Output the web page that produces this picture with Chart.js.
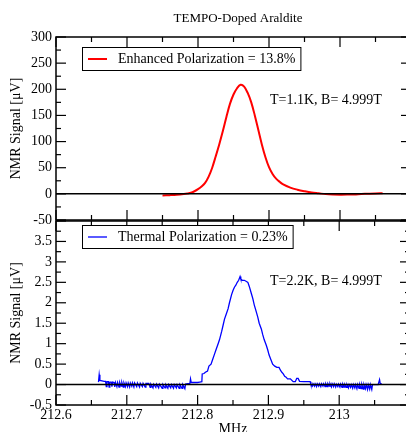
<!DOCTYPE html>
<html>
<head>
<meta charset="utf-8">
<script src="https://cdn.jsdelivr.net/npm/chart.js@4"></script>
<style>
    body { margin: 0; background: #fff; }
    #wrap { position: relative; width: 406px; height: 432px; overflow: hidden; background: #fff; }
    #wrap canvas { position: absolute; left: 0; top: 0; }
</style>
</head>
<body>
<div id="wrap">
    <canvas id="thermalChart" width="412" height="450"></canvas>
    <canvas id="enhancedChart" width="412" height="450"></canvas>
</div>
<script>
// Enhanced (DNP) signal, top panel
const enhancedFreq = [212.750, 212.760, 212.770, 212.780, 212.785, 212.790, 212.795, 212.800, 212.805, 212.810,
    212.815, 212.820, 212.825, 212.830, 212.835, 212.840, 212.845, 212.850, 212.855, 212.860,
    212.865, 212.870, 212.875, 212.880, 212.885, 212.890, 212.895, 212.900, 212.905, 212.910,
    212.915, 212.920, 212.930, 212.940, 212.950, 212.960, 212.970, 212.980, 212.990, 213.000,
    213.010, 213.020, 213.030, 213.040, 213.050, 213.060];
const enhancedSignal = [-3, -2.5, -1.8, -0.5, 0.5, 2, 5, 9, 14, 21,
    33, 50, 72, 95, 120, 147, 172, 190, 202, 208.5,
    205, 193, 175, 150, 122, 94, 70, 51, 38, 29,
    23, 18, 12, 8, 5, 2.5, 1, -0.5, -1.2, -1.5,
    -1.4, -1, -0.3, 0.3, 0.8, 1];

// Thermal equilibrium signal, bottom panel
const thermalFreq = [212.660, 212.661, 212.662, 212.665, 212.668, 212.670, 212.671, 212.672, 212.674, 212.675,
    212.676, 212.678, 212.679, 212.680, 212.682, 212.683, 212.684, 212.686, 212.687, 212.689,
    212.690, 212.692, 212.693, 212.695, 212.696, 212.698, 212.699, 212.701, 212.702, 212.704,
    212.705, 212.707, 212.708, 212.710, 212.711, 212.714, 212.715, 212.718, 212.719, 212.722,
    212.723, 212.726, 212.727, 212.731, 212.733, 212.734, 212.737, 212.738, 212.741, 212.742,
    212.745, 212.746, 212.750, 212.751, 212.754, 212.755, 212.758, 212.759, 212.762, 212.763,
    212.766, 212.767, 212.770, 212.771, 212.774, 212.775, 212.778, 212.779, 212.782, 212.783,
    212.786, 212.789, 212.790, 212.791, 212.795, 212.800, 212.803, 212.806, 212.8065, 212.809,
    212.811, 212.814, 212.816, 212.819, 212.821, 212.824, 212.826, 212.829, 212.831, 212.834,
    212.836, 212.838, 212.841, 212.843, 212.845, 212.848, 212.850, 212.852, 212.854, 212.856,
    212.858, 212.860, 212.861, 212.863, 212.866, 212.869, 212.871, 212.873, 212.876, 212.878,
    212.880, 212.883, 212.885, 212.887, 212.890, 212.892, 212.894, 212.897, 212.899, 212.901,
    212.904, 212.906, 212.909, 212.912, 212.915, 212.917, 212.919, 212.921, 212.923, 212.925,
    212.927, 212.929, 212.931, 212.935, 212.938, 212.940, 212.942, 212.944, 212.950, 212.955,
    212.959, 212.960, 212.962, 212.963, 212.965, 212.966, 212.968, 212.969, 212.971, 212.972,
    212.974, 212.975, 212.977, 212.978, 212.980, 212.981, 212.983, 212.984, 212.986, 212.987,
    212.989, 212.990, 212.992, 212.993, 212.995, 212.996, 212.998, 212.999, 213.001, 213.002,
    213.004, 213.005, 213.007, 213.008, 213.010, 213.011, 213.013, 213.014, 213.016, 213.017,
    213.019, 213.020, 213.022, 213.023, 213.025, 213.026, 213.028, 213.029, 213.031, 213.032,
    213.034, 213.035, 213.037, 213.038, 213.040, 213.041, 213.043, 213.044, 213.046, 213.047,
    213.055, 213.057, 213.058, 213.060];
const thermalSignal = [0.06, 0.24, 0.10, 0.09, 0.08, 0.08, -0.05, 0.07, 0.07, -0.06,
    0.06, 0.06, -0.05, 0.06, 0.05, -0.06, 0.05, -0.05, 0.05, -0.06,
    0.05, -0.04, 0.05, -0.06, 0.04, -0.05, 0.04, -0.05, 0.04, -0.06,
    0.04, -0.04, 0.04, -0.06, 0.04, -0.05, 0.04, -0.06, 0.03, -0.05,
    0.03, -0.06, 0.03, 0.03, -0.07, 0.01, -0.08, 0.01, -0.07, 0.01,
    -0.08, 0.01, -0.09, 0.0, -0.08, 0.0, -0.09, 0.0, -0.08, 0.0,
    -0.09, 0.0, -0.08, 0.0, -0.09, 0.0, -0.09, 0.0, -0.1, 0.01,
    0.02, 0.02, 0.14, 0.05, 0.05, 0.05, 0.06, 0.07, 0.26, 0.27,
    0.3, 0.33, 0.45, 0.5, 0.6, 0.75, 0.85, 1.0, 1.1, 1.3,
    1.45, 1.6, 1.75, 1.85, 2.0, 2.2, 2.3, 2.38, 2.43, 2.5,
    2.55, 2.64, 2.58, 2.55, 2.55, 2.52, 2.5, 2.4, 2.22, 2.1,
    1.95, 1.77, 1.65, 1.5, 1.36, 1.22, 1.1, 0.96, 0.85, 0.72,
    0.59, 0.5, 0.45, 0.42, 0.42, 0.35, 0.3, 0.26, 0.2, 0.18,
    0.14, 0.14, 0.14, 0.07, 0.07, 0.15, 0.15, 0.08, 0.07, 0.07,
    0.07, 0.0, -0.04, 0.02, -0.04, 0.02, -0.05, 0.02, -0.04, 0.02,
    -0.05, 0.02, -0.04, 0.02, -0.05, 0.02, -0.05, 0.02, -0.04, 0.02,
    -0.06, 0.02, -0.05, 0.02, -0.06, 0.01, -0.05, 0.01, -0.06, 0.01,
    -0.07, 0.01, -0.06, 0.0, -0.07, 0.0, -0.08, 0.0, -0.07, 0.0,
    -0.09, 0.0, -0.08, 0.0, -0.1, 0.0, -0.09, 0.0, -0.1, 0.0,
    -0.11, 0.0, -0.1, 0.0, -0.12, 0.0, -0.11, 0.0, -0.12, 0.0,
    0.0, 0.12, 0.02, 0.02];

const SERIF = '"Liberation Serif", "Times New Roman", serif';

document.addEventListener("DOMContentLoaded", function() {

    function toPoints(xs, ys) {
        return xs.map((x, i) => ({ x: x, y: ys[i] }));
    }

    function line(ctx, x1, y1, x2, y2) {
        ctx.beginPath();
        ctx.moveTo(x1, y1);
        ctx.lineTo(x2, y2);
        ctx.stroke();
    }

    // minor ticks sit halfway between the major ones
    function tickSets(scale) {
        const major = scale.ticks.map(t => t.value);
        const minor = [];
        for (let i = 0; i < major.length - 1; i++) minor.push((major[i] + major[i + 1]) / 2);
        return { major, minor };
    }

    // frame, inward ticks, zero line, boxed legend and notes (grace-style)
    const framePlugin = {
        id: "frame",
        afterDatasetsDraw(chart, args, opts) {
            const { ctx, chartArea: a, scales: { x, y } } = chart;
            ctx.save();
            ctx.strokeStyle = "#000";
            ctx.lineWidth = 1.5;

            const y0 = y.getPixelForValue(0);
            line(ctx, a.left, y0, a.right, y0);
            ctx.strokeRect(a.left, a.top, a.right - a.left, a.bottom - a.top);

            ctx.lineWidth = 1.2;
            const xt = tickSets(x);
            xt.major.forEach(v => {
                const px = x.getPixelForValue(v);
                line(ctx, px, a.bottom, px, a.bottom - 10);
                line(ctx, px, a.top, px, a.top + 10);
            });
            xt.minor.forEach(v => {
                const px = x.getPixelForValue(v);
                line(ctx, px, a.bottom, px, a.bottom - 5);
                line(ctx, px, a.top, px, a.top + 5);
            });
            const yt = tickSets(y);
            yt.major.forEach(v => {
                const py = y.getPixelForValue(v);
                line(ctx, a.left, py, a.left + 10, py);
                line(ctx, a.right, py, a.right - 10, py);
            });
            yt.minor.forEach(v => {
                const py = y.getPixelForValue(v);
                line(ctx, a.left, py, a.left + 5, py);
                line(ctx, a.right, py, a.right - 5, py);
            });

            // legend box
            const lg = opts.legend;
            ctx.font = "14px " + SERIF;
            ctx.textBaseline = "middle";
            ctx.textAlign = "left";
            const tw = ctx.measureText(lg.text).width;
            ctx.lineWidth = 1;
            ctx.fillStyle = "#fff";
            ctx.fillRect(82, lg.top, 118 + tw + 5 - 82, 23);
            ctx.strokeRect(82.5, lg.top + 0.5, 118 + tw + 5 - 82, 23);
            ctx.strokeStyle = lg.color;
            ctx.lineWidth = lg.width;
            line(ctx, 88, lg.top + 12, 107, lg.top + 12);
            ctx.fillStyle = "#000";
            ctx.fillText(lg.text, 118, lg.top + 12.5);

            // condition note
            ctx.fillText(opts.note.text, 270, opts.note.y);

            if (opts.title) {
                ctx.font = "13px " + SERIF;
                ctx.textAlign = "center";
                ctx.fillText(opts.title, 238, 19);
            }
            ctx.restore();
        }
    };

    const yTitle = {
        display: true,
        text: "NMR Signal [\u03bcV]",
        color: "#000",
        font: { family: SERIF, size: 14 },
        padding: { top: 8, bottom: 0 }
    };

    // 1) Top panel: enhanced polarization
    new Chart(document.getElementById("enhancedChart"), {
        type: "scatter",
        data: {
            datasets: [{
                data: toPoints(enhancedFreq, enhancedSignal),
                showLine: true,
                borderColor: "#ff0000",
                borderWidth: 2,
                pointRadius: 0,
                tension: 0.35
            }]
        },
        options: {
            responsive: false,
            animation: false,
            layout: { padding: { top: 37, bottom: 230, left: 0, right: 1 } },
            plugins: {
                legend: { display: false },
                tooltip: { enabled: false },
                frame: {
                    legend: { text: "Enhanced Polarization = 13.8%", color: "#ff0000", width: 2, top: 47 },
                    note: { text: "T=1.1K, B= 4.999T", y: 100 },
                    title: "TEMPO-Doped Araldite"
                }
            },
            scales: {
                x: { type: "linear", display: false, min: 212.6, max: 213.1,
                     ticks: { stepSize: 0.1 } },
                y: {
                    min: -50, max: 300,
                    grid: { display: false, drawTicks: false },
                    border: { display: false },
                    ticks: { stepSize: 50, padding: 4, color: "#000",
                             font: { family: SERIF, size: 14 } },
                    title: yTitle,
                    afterFit: s => { s.width = 56; }
                }
            }
        },
        plugins: [framePlugin]
    });

    // 2) Bottom panel: thermal polarization
    new Chart(document.getElementById("thermalChart"), {
        type: "scatter",
        data: {
            datasets: [{
                data: toPoints(thermalFreq, thermalSignal),
                showLine: true,
                borderColor: "#0000ff",
                borderWidth: 1.3,
                pointRadius: 0
            }]
        },
        options: {
            responsive: false,
            animation: false,
            layout: { padding: { top: 221, bottom: 0, left: 0, right: 1 } },
            plugins: {
                legend: { display: false },
                tooltip: { enabled: false },
                frame: {
                    legend: { text: "Thermal Polarization = 0.23%", color: "#0000ff", width: 1.3, top: 225 },
                    note: { text: "T=2.2K, B= 4.999T", y: 281 }
                }
            },
            scales: {
                x: {
                    type: "linear", min: 212.6, max: 213.1,
                    grid: { display: false, drawTicks: false },
                    border: { display: false },
                    ticks: { stepSize: 0.1, padding: 2, color: "#000", maxRotation: 0,
                             font: { family: SERIF, size: 14 },
                             callback: v => v > 213.05 ? "" : String(Number(v.toFixed(1))) },
                    title: { display: true, text: "MHz", color: "#000",
                             font: { family: SERIF, size: 14 },
                             padding: { top: 0, bottom: 12 } },
                    afterFit: s => { s.height = 45; }
                },
                y: {
                    min: -0.5, max: 4,
                    grid: { display: false, drawTicks: false },
                    border: { display: false },
                    ticks: { stepSize: 0.5, padding: 4, color: "#000",
                             font: { family: SERIF, size: 14 },
                             callback: v => v > 3.9 ? "" : String(Number(v.toFixed(1))) },
                    title: yTitle,
                    afterFit: s => { s.width = 56; }
                }
            }
        },
        plugins: [framePlugin]
    });
});
</script>
</body>
</html>
